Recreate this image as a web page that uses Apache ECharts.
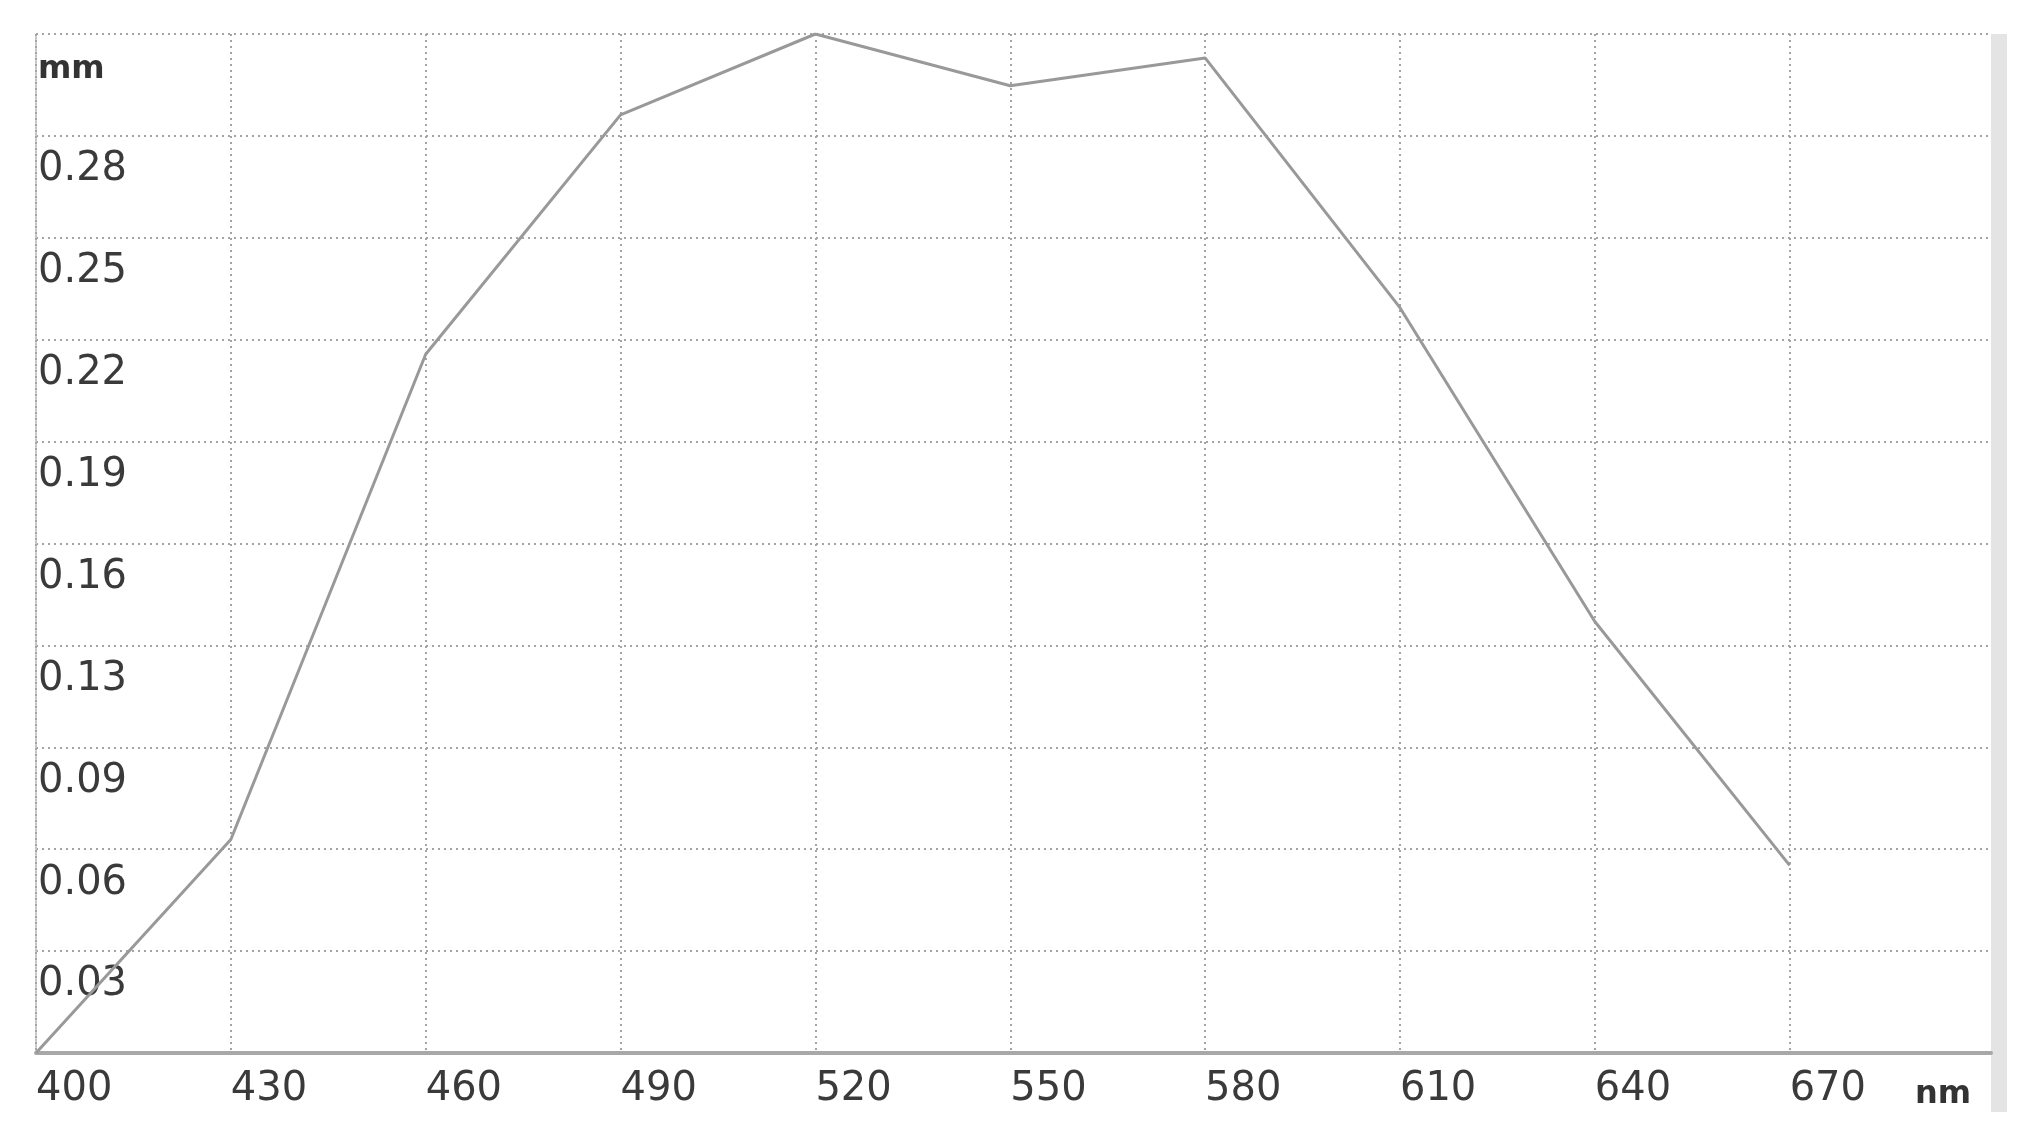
<!DOCTYPE html>
<html>
<head>
<meta charset="utf-8">
<script src="https://cdn.jsdelivr.net/npm/echarts@6/dist/echarts.min.js"></script>
<style>
  html, body { margin: 0; padding: 0; background: #fff; }
  #chart { width: 2024px; height: 1140px; }
</style>
</head>
<body>
<div id="chart"></div>
<script>
// 波长 (nm) 及对应数值 (mm)
var wavelengths = [400, 430, 460, 490, 520, 550, 580, 610, 640, 670];
var values = [0, 0.066, 0.216, 0.290, 0.315, 0.299, 0.3076, 0.2304, 0.1334, 0.058];
// x 轴刻度
var xTicks = [400, 430, 460, 490, 520, 550, 580, 610, 640, 670];
// y 轴刻度标签（最顶端用单位代替）
var yTickLabels = ['', '0.03', '0.06', '0.09', '0.13', '0.16', '0.19', '0.22', '0.25', '0.28', 'mm'];
var yStep = 0.0315;

var myChart = echarts.init(document.getElementById('chart'));

// 将数据串处理为坐标点
var points = [];
for (var i = 0; i < wavelengths.length; i++) {
  points.push([wavelengths[i], values[i]]);
}

var gridColor = '#a4a4a4';

myChart.setOption({
  animation: false,
  textStyle: { fontFamily: 'DejaVu Sans' },
  grid: {
    left: 36,
    right: 33,
    top: 34,
    bottom: 87,
    containLabel: false
  },
  xAxis: {
    type: 'value',
    min: 400,
    max: 701,
    interval: 30,
    name: 'nm',
    nameLocation: 'end',
    nameGap: -76,
    nameTextStyle: {
      color: '#333',
      fontSize: 32,
      fontWeight: 'bold',
      align: 'left',
      verticalAlign: 'top',
      padding: [26, 0, 0, 0]
    },
    axisLine: { show: true, lineStyle: { color: '#a8a8a8', width: 4 } },
    axisTick: { show: false, customValues: xTicks },
    axisLabel: {
      color: '#3a3a3a',
      fontSize: 40,
      align: 'left',
      margin: 17,
      customValues: xTicks,
      formatter: function (v) { return v > 670 ? '' : String(v); }
    },
    splitLine: {
      show: true,
      lineStyle: { color: gridColor, width: 2, type: [2, 4] }
    }
  },
  yAxis: {
    type: 'value',
    min: 0,
    max: yStep * 10,
    interval: yStep,
    axisLine: { show: true, lineStyle: { color: '#c4c4c4', width: 2, type: [2, 4] } },
    axisTick: { show: false },
    axisLabel: {
      inside: true,
      margin: 2,
      verticalAlign: 'top',
      padding: [14, 0, 0, 0],
      color: '#3a3a3a',
      fontSize: 40,
      formatter: function (v) {
        var idx = Math.round(v / yStep);
        return idx === 10 ? '{u|' + yTickLabels[idx] + '}' : (yTickLabels[idx] || '');
      },
      rich: {
        u: { fontSize: 32, fontWeight: 'bold', color: '#333', padding: [6, 0, 0, 0] }
      }
    },
    splitLine: {
      show: true,
      lineStyle: { color: gridColor, width: 2, type: [2, 4] }
    }
  },
  graphic: [
    {
      type: 'rect',
      shape: { x: 1991, y: 34, width: 16, height: 1078 },
      style: { fill: '#e4e4e4' },
      silent: true
    }
  ],
  series: [
    {
      type: 'line',
      data: points,
      symbol: 'none',
      lineStyle: { color: '#999', width: 3 },
      z: 5
    }
  ]
});
</script>
</body>
</html>
